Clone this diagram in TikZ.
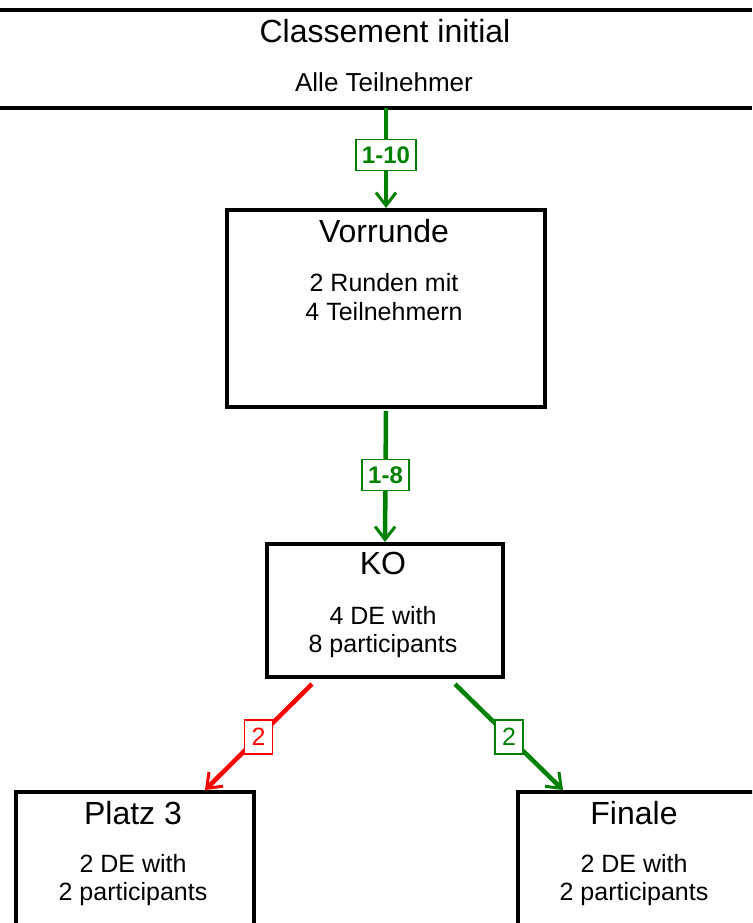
\documentclass[tikz,border=0pt]{standalone}
\usepackage{fontspec}
\setmainfont{Liberation Sans}
\usetikzlibrary{arrows.meta}
\definecolor{grn}{RGB}{0,128,0}
\definecolor{rd}{RGB}{255,0,0}
\begin{document}
\begin{tikzpicture}[x=1pt,y=-1pt,
  box/.style={draw=black,line width=4pt,inner sep=0pt},
  ttl/.style={font=\fontsize{32}{36}\selectfont,inner sep=0pt},
  bodytxt/.style={font=\fontsize{25}{28.5}\selectfont,align=center,inner sep=0pt},
  conn/.style={line width=4.5pt,-{Straight Barb[length=13pt,width=20pt,line width=3pt]}},
  tag/.style={draw,line width=1.5pt,fill=white,inner xsep=7pt,minimum height=34pt,font=\fontsize{25}{28}\selectfont},
  btag/.style={tag,inner xsep=6pt,minimum height=31pt,font=\bfseries\fontsize{24}{28}\selectfont}]
\useasboundingbox (0,0) rectangle (752,923);
\clip (0,0) rectangle (752,923);
% top band
\node[minimum width=752pt,minimum height=98pt,inner sep=0pt,anchor=north west] (init) at (0,10) {};
\draw[line width=4pt] (init.north west) -- (init.north east);
\draw[line width=4pt] (init.south west) -- (init.south east);
\node[ttl] (initT) at (385,31) {Classement initial};
\node[bodytxt,font=\fontsize{26}{30}\selectfont] (initB) at (384,82) {Alle Teilnehmer};
% boxes
\node[box,minimum width=318pt,minimum height=197pt,anchor=north west] (vor) at (225,208) {};
\node[ttl] (vorT) at (384,231) {Vorrunde};
\node[bodytxt] (vorB) at (384,297) {2 Runden mit\\4 Teilnehmern};
\node[box,minimum width=236pt,minimum height=133pt,anchor=north west] (ko) at (265,542) {};
\node[ttl] (koT) at (383,563) {KO};
\node[bodytxt] (koB) at (383,632) {4 DE with\\8 participants};
\node[box,minimum width=238pt,minimum height=200pt,anchor=north west] (p3) at (14,790) {};
\node[ttl] (p3T) at (133,813) {Platz 3};
\node[bodytxt] (p3B) at (133,880) {2 DE with\\2 participants};
\node[box,minimum width=250pt,minimum height=200pt,anchor=north west] (fin) at (516,790) {};
\node[ttl] (finT) at (634,813) {Finale};
\node[bodytxt] (finB) at (634,880) {2 DE with\\2 participants};
% connectors
\draw[conn,grn] (vor.north |- init.south) -- (vor.north)
  node[btag,draw=grn,text=grn,pos=0.47] (t1) {1-10};
\draw[conn,grn] ([yshift=-2pt]vor.south) -- (ko.north)
  node[btag,draw=grn,text=grn,pos=0.49] (t2) {1-8};
\draw[conn,rd] ([shift={(47pt,-5pt)}]ko.south west) -- ([xshift=191pt]p3.north west)
  node[tag,draw=rd,text=rd,pos=0.5] (t3) {2};
\draw[conn,grn] ([shift={(190pt,-5pt)}]ko.south west) -- ([xshift=47pt]fin.north west)
  node[tag,draw=grn,text=grn,pos=0.5] (t4) {2};
\end{tikzpicture}
\end{document}
